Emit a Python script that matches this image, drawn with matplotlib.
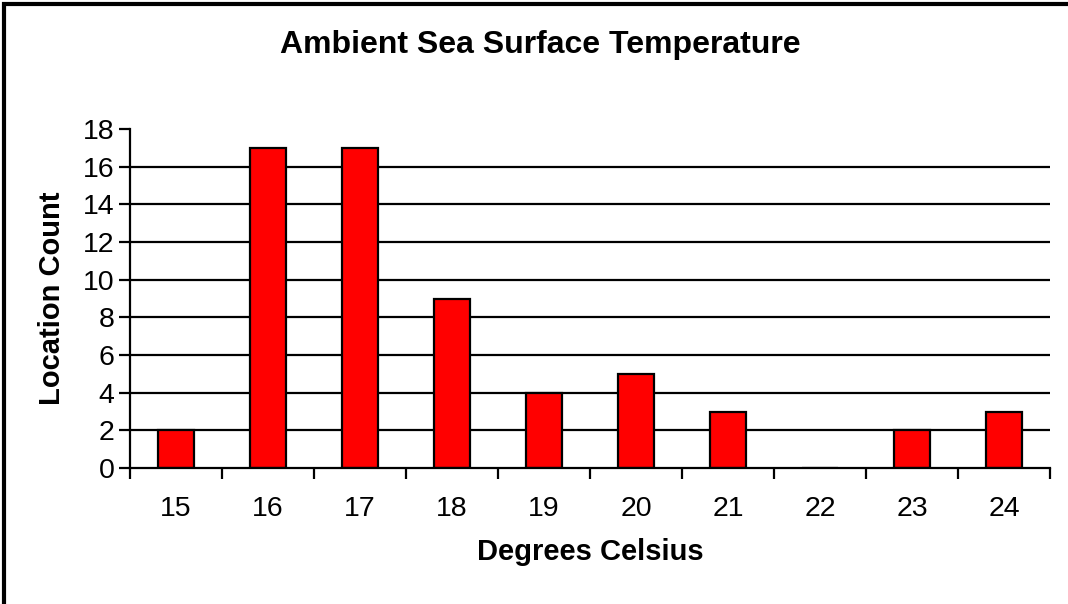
import matplotlib.pyplot as plt
from matplotlib.patches import Rectangle

plt.rcParams['font.family'] = ['Liberation Sans', 'DejaVu Sans']

temps = ['15', '16', '17', '18', '19', '20', '21', '22', '23', '24']
counts = [2, 17, 17, 9, 4, 5, 3, 0, 2, 3]

fig = plt.figure(figsize=(10.68, 6.04), dpi=100)
ax = fig.add_axes([130 / 1068, 1 - 468 / 604, 920 / 1068, 339 / 604])

x = list(range(len(temps)))
ax.bar(x, counts, width=0.39, color='#ff0000', edgecolor='black', linewidth=1.6, zorder=3)

ax.set_xlim(-0.5, len(temps) - 0.5)
ax.set_ylim(0, 18)
ax.set_yticks(range(0, 19, 2))
for y in range(2, 18, 2):
    ax.axhline(y, color='black', linewidth=1.6, zorder=1)

# category boundaries get the tick marks, labels sit in between
ax.set_xticks([i - 0.5 for i in range(len(temps) + 1)])
ax.set_xticklabels([])
ax.set_xticks(x, minor=True)
ax.set_xticklabels(temps, minor=True)
ax.tick_params(axis='x', which='major', length=8, width=1.6, direction='out')
ax.tick_params(axis='x', which='minor', length=0, pad=20, labelsize=20.5)
ax.tick_params(axis='y', length=8, width=1.6, direction='out', labelsize=20.5, pad=3)

for s in ['top', 'right']:
    ax.spines[s].set_visible(False)
ax.spines['left'].set_linewidth(1.6)
ax.spines['bottom'].set_linewidth(1.6)
ax.spines['bottom'].set_zorder(4)

ax.set_xlabel('Degrees Celsius', fontsize=21, fontweight='bold', labelpad=12)
ax.set_ylabel('Location Count', fontsize=21, fontweight='bold', labelpad=12)
fig.text(540 / 1068, 1 - 45 / 604, 'Ambient Sea Surface Temperature', fontsize=23,
         fontweight='bold', ha='center', va='center')

# chart frame, only top and left edges visible in the original
fig.patches.append(Rectangle((4 / 1068, -0.1), 1.2, 1 - 4 / 604 + 0.1,
                             transform=fig.transFigure, fill=False,
                             edgecolor='black', linewidth=3))

fig.savefig('out.png', dpi=100)
